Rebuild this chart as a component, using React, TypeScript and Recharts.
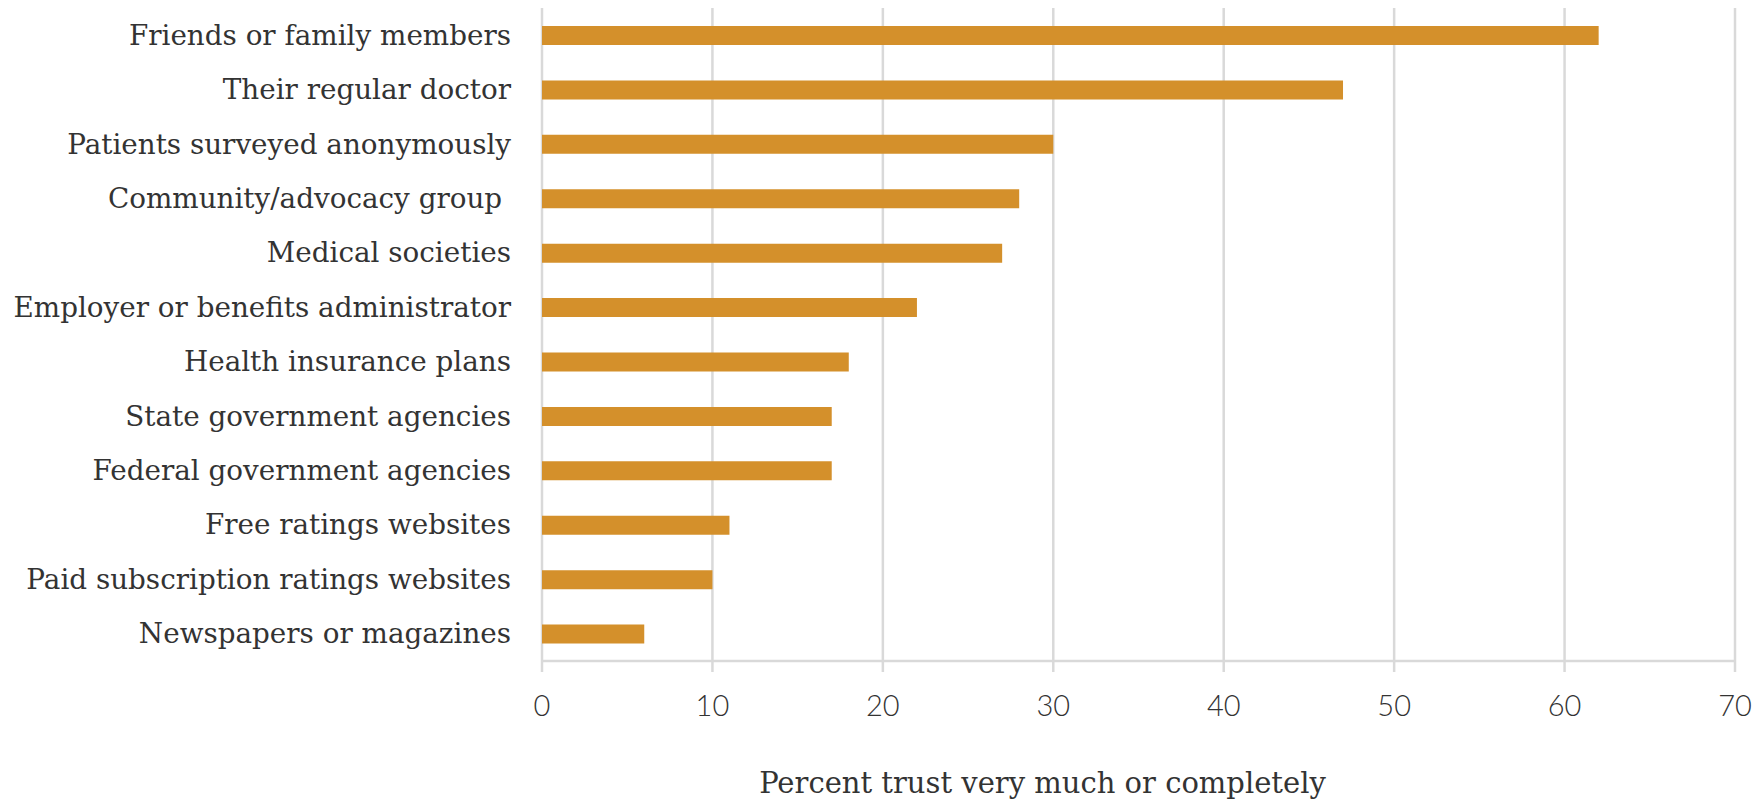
import React from "react";
import { BarChart, Bar, XAxis, YAxis, CartesianGrid } from "recharts";

const categories = [
  "Friends or family members",
  "Their regular doctor",
  "Patients surveyed anonymously",
  "Community/advocacy group ",
  "Medical societies",
  "Employer or benefits administrator",
  "Health insurance plans",
  "State government agencies",
  "Federal government agencies",
  "Free ratings websites",
  "Paid subscription ratings websites",
  "Newspapers or magazines",
];
const trustValues = [62, 47, 30, 28, 27, 22, 18, 17, 17, 11, 10, 6];
const xTicks = [0, 10, 20, 30, 40, 50, 60, 70];
const xTitle = "Percent trust very much or completely";

const data = categories.map((name, i) => ({ name, value: trustValues[i] }));

const GRID = "#d9d9d9";
const TEXT = "#333333";
const BAR = "#D4902B";
const SERIF = "'DejaVu Serif', serif";

const YTick = (props: any) => {
  const { x, y, payload } = props;
  return (
    <text
      x={x - 23}
      y={y}
      textAnchor="end"
      dominantBaseline="central"
      fill={TEXT}
      style={{ whiteSpace: "pre", fontFamily: SERIF, fontSize: 27.8 }}
    >
      {payload.value}
    </text>
  );
};

const XTick = (props: any) => {
  const { x, y, payload } = props;
  return (
    <text
      x={x}
      y={y + 30}
      textAnchor="middle"
      dominantBaseline="central"
      fill={TEXT}
      style={{ fontFamily: "Lato, sans-serif", fontWeight: 300, fontSize: 29 }}
    >
      {payload.value}
    </text>
  );
};

const XTitle = (props: any) => {
  const { viewBox } = props;
  return (
    <text
      x={viewBox.x + viewBox.width / 2 - 96}
      y={793}
      textAnchor="middle"
      fill={TEXT}
      style={{ fontFamily: SERIF, fontSize: 29 }}
    >
      {xTitle}
    </text>
  );
};

export default function App() {
  return (
    <div style={{ position: "absolute", left: 0, top: 0, background: "#fff" }}>
      <BarChart
        width={1763}
        height={800}
        data={data}
        layout="vertical"
        margin={{ top: 8, right: 28, bottom: 0, left: 0 }}
        barCategoryGap={0}
      >
        <CartesianGrid horizontal={false} vertical={true} stroke={GRID} strokeWidth={2.5} />
        <XAxis
          type="number"
          domain={[0, 70]}
          ticks={xTicks}
          height={139}
          axisLine={{ stroke: GRID, strokeWidth: 2.5 }}
          tickLine={{ stroke: GRID, strokeWidth: 2.5 }}
          tickSize={11}
          tick={<XTick />}
          interval={0}
          label={<XTitle />}
        />
        <YAxis
          type="category"
          dataKey="name"
          width={542}
          axisLine={false}
          tickLine={false}
          tick={<YTick />}
          interval={0}
        />
        <Bar dataKey="value" fill={BAR} barSize={19} isAnimationActive={false} />
      </BarChart>
    </div>
  );
}
